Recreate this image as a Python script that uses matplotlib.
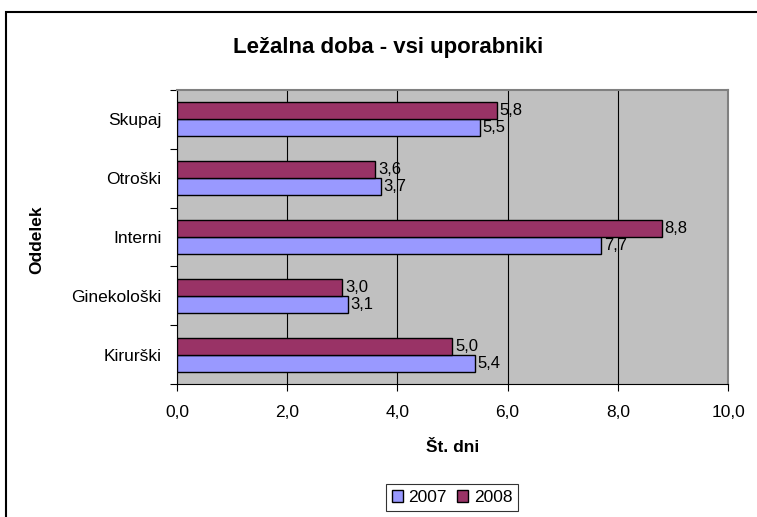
import numpy as np
import matplotlib.pyplot as plt
from matplotlib.patches import Rectangle

plt.rcParams['font.family'] = ['Liberation Sans', 'DejaVu Sans']

# podatki
oddelki = ['Kirurški', 'Ginekološki', 'Interni', 'Otroški', 'Skupaj']
dni_2007 = [5.4, 3.1, 7.7, 3.7, 5.5]
dni_2008 = [5.0, 3.0, 8.8, 3.6, 5.8]
leta = ['2007', '2008']

fig = plt.figure(figsize=(7.57, 5.17), dpi=100)
ax = fig.add_axes([0.2338, 0.2573, 0.7279, 0.5687])

y = np.arange(len(oddelki))
h = 0.29
b1 = ax.barh(y - h/2, dni_2007, height=h, color='#9999FF', edgecolor='black', linewidth=1, label=leta[0], zorder=3)
b2 = ax.barh(y + h/2, dni_2008, height=h, color='#993366', edgecolor='black', linewidth=1, label=leta[1], zorder=3)

for bars, vals in ((b1, dni_2007), (b2, dni_2008)):
    for r, v in zip(bars, vals):
        ax.annotate(('%.1f' % v).replace('.', ','), (r.get_width(), r.get_y() + r.get_height()/2),
                    xytext=(2, 0), textcoords='offset points', va='center', ha='left', fontsize=12)

ax.set_facecolor('#C0C0C0')
ax.set_xlim(0, 10)
ax.set_ylim(-0.5, len(oddelki) - 0.5)
ax.set_xticks(np.arange(0, 11, 2))
ax.set_xticklabels([('%.1f' % v).replace('.', ',') for v in np.arange(0, 11, 2)], fontsize=12.5)
ax.xaxis.grid(True, color='black', linewidth=0.8, zorder=1)
ax.tick_params(axis='x', length=5, direction='out', pad=10)

ax.set_yticks(np.arange(-0.5, len(oddelki)), minor=False)
ax.set_yticklabels([])
ax.set_yticks(y, minor=True)
ax.set_yticklabels(oddelki, minor=True, fontsize=12.5)
ax.tick_params(axis='y', which='major', length=5, direction='out')
ax.tick_params(axis='y', which='minor', length=0, pad=11)

for s in ['top', 'right']:
    ax.spines[s].set_color('#808080')
    ax.spines[s].set_linewidth(1.5)
ax.spines['left'].set_color('black')
ax.spines['bottom'].set_color('black')

ax.set_xlabel('Št. dni', fontsize=12.5, fontweight='bold')
ax.xaxis.set_label_coords(0.5, -0.19)
ax.set_ylabel('Oddelek', fontsize=12.5, fontweight='bold')
ax.yaxis.set_label_coords(-0.24, 0.49)
fig.text(0.513, 0.909, 'Ležalna doba - vsi uporabniki', ha='center', va='center', fontsize=16, fontweight='bold')

leg = fig.legend(loc='center', bbox_to_anchor=(0.597, 0.037), ncol=2, fontsize=12.5, frameon=True,
                 fancybox=False, edgecolor='black', handlelength=0.65, handleheight=0.65,
                 handletextpad=0.3, columnspacing=0.6, borderpad=0.35)
leg.get_frame().set_linewidth(0.8)

# okvir grafa
fig.patches.append(Rectangle((6/757, -0.1), 1.1, 1.1 - 12/517, transform=fig.transFigure,
                             fill=False, edgecolor='black', linewidth=1.5, clip_on=False))

fig.savefig('out.png', dpi=100)
